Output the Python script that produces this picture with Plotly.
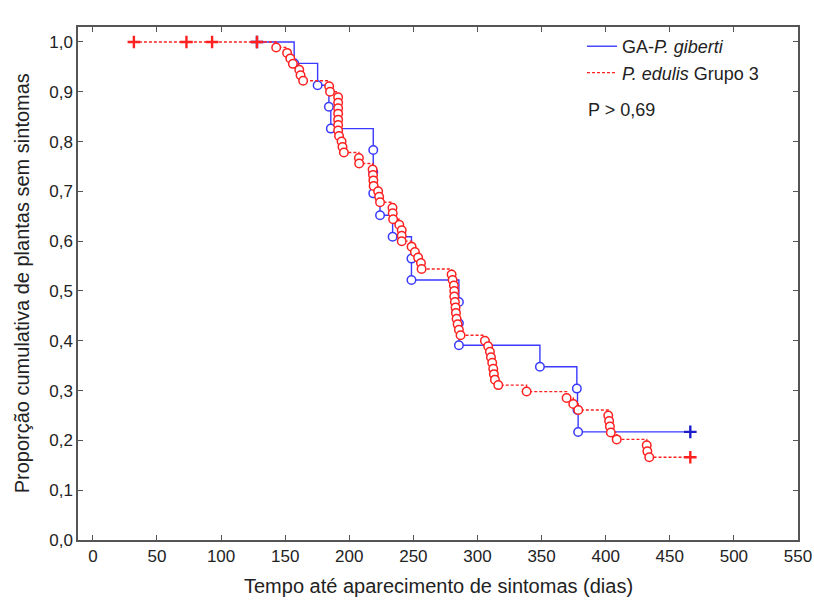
import plotly.graph_objects as go

# ---- GA-P. giberti: event times (days) and cumulative proportion without symptoms
giberti_event_days = [157, 175.3, 184.1, 185.6, 218.7, 218.7, 218.7, 224, 233.8,
                      248.5, 248.5, 285.5, 285.5, 285.5, 348.7, 377.5, 378, 378.5]
giberti_event_surv = [0.957, 0.913, 0.870, 0.826, 0.783, 0.739, 0.696, 0.652, 0.609,
                      0.565, 0.522, 0.478, 0.435, 0.391, 0.348, 0.304, 0.261, 0.217]
giberti_censor_days = [128, 466]
giberti_censor_surv = [1.0, 0.217]

# ---- P. edulis Grupo 3
edulis_event_days = [143, 151.5, 154, 156, 161, 162, 164,
                     184.3, 185, 191.3, 191.3, 191.3, 191.3, 191.3, 191.3, 191.3,
                     192, 194, 194.7, 195.8,
                     207.5, 207.7,
                     218.2, 218.5, 218.8, 219, 222.5, 223.3, 224,
                     233.7, 233.9, 234.2, 239, 240.9, 240.9, 240.9,
                     248.6, 251.2, 253.7, 255.9, 256.4,
                     279.8, 280.6, 281.6, 281.9, 281.9, 282.4, 282.9, 283.2, 283.7,
                     284.5, 285.5, 286.8,
                     305.8, 308.3, 309.7, 310.5, 311.5, 312.3, 312.8, 313.6, 316.2,
                     338.3,
                     369.5, 374.7, 378.6,
                     402, 402.7, 403.3, 404, 408.6,
                     432, 432.5, 434]
edulis_event_surv = [0.989, 0.978, 0.967, 0.956, 0.944, 0.933, 0.922,
                     0.911, 0.900, 0.889, 0.878, 0.867, 0.856, 0.844, 0.833, 0.822,
                     0.811, 0.800, 0.789, 0.778,
                     0.767, 0.756,
                     0.744, 0.733, 0.722, 0.711, 0.700, 0.689, 0.678,
                     0.667, 0.656, 0.644, 0.633, 0.622, 0.611, 0.600,
                     0.589, 0.578, 0.567, 0.556, 0.544,
                     0.533, 0.522, 0.511, 0.500, 0.489, 0.478, 0.467, 0.456, 0.444,
                     0.433, 0.422, 0.411,
                     0.400, 0.389, 0.378, 0.367, 0.356, 0.344, 0.333, 0.322, 0.311,
                     0.298,
                     0.285, 0.273, 0.261,
                     0.250, 0.239, 0.228, 0.216, 0.202,
                     0.190, 0.178, 0.166]
edulis_censor_days = [32, 73, 93, 128, 466]
edulis_censor_surv = [1.0, 1.0, 1.0, 1.0, 0.166]

x_tick_vals = [0, 50, 100, 150, 200, 250, 300, 350, 400, 450, 500, 550]
x_tick_text = ["0", "50", "100", "150", "200", "250", "300", "350", "400", "450", "500", "550"]
y_tick_vals = [0.0, 0.1, 0.2, 0.3, 0.4, 0.5, 0.6, 0.7, 0.8, 0.9, 1.0]
y_tick_text = ["0,0", "0,1", "0,2", "0,3", "0,4", "0,5", "0,6", "0,7", "0,8", "0,9", "1,0"]

BLUE = "#3a3aff"
BLUE_DARK = "#1c1cc8"
RED = "#ff2020"
FONT = "Liberation Sans, Arial, sans-serif"
TEXT = "#222"


def step_path(ev_days, ev_surv, cen_days, cen_surv):
    pts = sorted(list(zip(ev_days, ev_surv)) + list(zip(cen_days, cen_surv)),
                 key=lambda p: (p[0], -p[1]))
    return [p[0] for p in pts], [p[1] for p in pts]


fig = go.Figure()

series = [
    ("GA-<i>P. giberti</i>", giberti_event_days, giberti_event_surv,
     giberti_censor_days, giberti_censor_surv, BLUE, BLUE_DARK, "solid"),
    ("<i>P. edulis</i> Grupo 3", edulis_event_days, edulis_event_surv,
     edulis_censor_days, edulis_censor_surv, RED, RED, "3px,2px"),
]

for name, ed, es, cd, cs, col, ccol, dash in series:
    px, py = step_path(ed, es, cd, cs)
    fig.add_trace(go.Scatter(
        x=px, y=py, mode="lines", name=name, line_shape="hv",
        line=dict(color=col, width=1.4, dash=dash), showlegend=True,
        hoverinfo="skip"))
    fig.add_trace(go.Scatter(
        x=ed, y=es, mode="markers", showlegend=False,
        marker=dict(symbol="circle", size=8.5, color="white",
                    line=dict(color=col, width=1.5))))
    fig.add_trace(go.Scatter(
        x=cd, y=cs, mode="markers", showlegend=False,
        marker=dict(symbol="cross-thin", size=9,
                    line=dict(color=ccol, width=2.4))))

fig.add_annotation(
    xref="paper", yref="paper", x=0.705, y=0.838, xanchor="left", yanchor="middle",
    text="P &gt; 0,69", showarrow=False, font=dict(family=FONT, size=18, color=TEXT))

# axis titles
fig.add_annotation(
    xref="paper", yref="paper", x=0.5, y=-0.0895, xanchor="center", yanchor="middle",
    text="Tempo até aparecimento de sintomas (dias)", showarrow=False,
    font=dict(family=FONT, size=20, color=TEXT))
fig.add_annotation(
    xref="paper", yref="paper", x=-0.078, y=0.5, xanchor="center", yanchor="middle",
    text="Proporção cumulativa de plantas sem sintomas", showarrow=False, textangle=-90,
    font=dict(family=FONT, size=20, color=TEXT))

axis_common = dict(showline=True, linecolor="#555", linewidth=1.5, mirror="ticks",
                   ticks="inside", ticklen=5, tickcolor="#555", tickwidth=1.2,
                   showgrid=False, zeroline=False, automargin=False,
                   tickfont=dict(family=FONT, size=17, color=TEXT))

fig.update_layout(
    width=814, height=601,
    margin=dict(l=78, r=16, t=27, b=61),
    paper_bgcolor="white", plot_bgcolor="white",
    font=dict(family=FONT, color=TEXT),
    xaxis=dict(range=[-11.6, 550], tickvals=x_tick_vals, ticktext=x_tick_text,
               **axis_common),
    yaxis=dict(range=[0, 1.03], tickvals=y_tick_vals, ticktext=y_tick_text,
               **axis_common),
    legend=dict(x=0.70, y=0.998, xanchor="left", yanchor="top",
                bgcolor="rgba(0,0,0,0)", font=dict(family=FONT, size=18, color=TEXT),
                tracegroupgap=0, itemwidth=30),
    showlegend=True,
)

fig.write_html("out.html", config={"displayModeBar": False})
